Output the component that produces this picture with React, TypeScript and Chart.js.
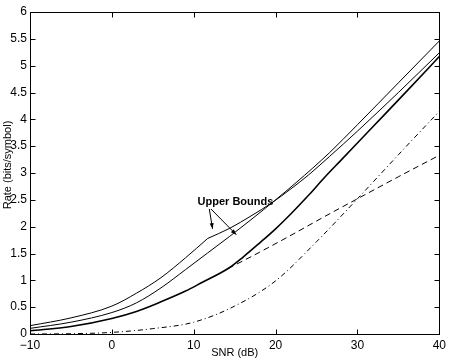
import React, { useEffect, useRef } from "react";
import { Chart, registerables } from "chart.js";

Chart.register(...registerables);

// Upper bound 1 (thin, with a kink) – before and after the kink
const snrA1 = [-10, -5, 0, 3, 6, 9, 11.7];
const rateA1 = [0.155, 0.3, 0.52, 0.76, 1.05, 1.42, 1.78];
const snrA2 = [11.7, 14.4, 17, 19.5, 22, 24, 26.6, 30, 35, 40];
const rateA2 = [1.78, 1.97, 2.2, 2.44, 2.72, 2.96, 3.31, 3.78, 4.5, 5.24];

// Upper bound 2 (thin)
const snrB = [-10, -5, 0, 3, 6, 9, 11.7, 14.4, 17, 20, 22.5, 26.6, 30, 35, 40];
const rateB = [0.105, 0.22, 0.4, 0.58, 0.86, 1.2, 1.51, 1.82, 2.13, 2.5, 2.82, 3.38, 3.9, 4.68, 5.46];

// Thick solid curve
const snrC = [-10, -5, 0, 3, 6, 9, 11, 14.2, 16, 18, 20, 22, 24, 26, 28, 32, 36, 40];
const rateC = [0.06, 0.14, 0.29, 0.42, 0.6, 0.8, 0.96, 1.22, 1.43, 1.69, 1.96, 2.26, 2.58, 2.92, 3.24, 3.88, 4.52, 5.17];

// Dashed curve
const snrD = [14.2, 18, 22, 26, 30, 35, 40];
const rateD = [1.22, 1.52, 1.85, 2.19, 2.52, 2.93, 3.33];

// Dash-dot curve
const snrE = [-10, -5, 0, 5, 10, 15, 20, 25, 30, 35, 40];
const rateE = [0, 0.005, 0.03, 0.1, 0.22, 0.52, 0.99, 1.72, 2.52, 3.34, 4.15];

const xTitle = "SNR (dB)";
const yTitle = "Rate (bits/symbol)";
const annotationText = "Upper Bounds";
// annotation anchor and arrow ends, in data units
const annotationAt = { x: 15.1, y: 2.46 };
const arrowStarts = [
  { x: 11.9, y: 2.33 },
  { x: 12.1, y: 2.33 },
];
const arrowEnds = [
  { x: 12.3, y: 1.96 },
  { x: 15.2, y: 1.85 },
];

const FONT = '"Liberation Sans", Arial, Helvetica, sans-serif';

const pts = (xs: number[], ys: number[]) => xs.map((x, i) => ({ x, y: ys[i] }));

const frame = {
  id: "matlabFrame",
  afterDraw(chart: any) {
    const { ctx, chartArea } = chart;
    const { left, right, top, bottom } = chartArea;
    const xs = chart.scales.x;
    const ys = chart.scales.y;
    ctx.save();
    ctx.strokeStyle = "#000";
    ctx.lineWidth = 1;
    ctx.setLineDash([]);
    const L = Math.round(left) + 0.5;
    const R = Math.round(right) + 0.5;
    const T = Math.round(top) + 0.5;
    const B = Math.round(bottom) + 0.5;
    ctx.strokeRect(L, T, R - L, B - T);
    ctx.beginPath();
    xs.ticks.forEach((t: any) => {
      const p = Math.round(xs.getPixelForValue(t.value)) + 0.5;
      ctx.moveTo(p, B);
      ctx.lineTo(p, B - 5);
      ctx.moveTo(p, T);
      ctx.lineTo(p, T + 5);
    });
    ys.ticks.forEach((t: any) => {
      const p = Math.round(ys.getPixelForValue(t.value)) + 0.5;
      ctx.moveTo(L, p);
      ctx.lineTo(L + 5, p);
      ctx.moveTo(R, p);
      ctx.lineTo(R - 5, p);
    });
    ctx.stroke();

    // axis titles
    ctx.fillStyle = "#000";
    ctx.font = `11px ${FONT}`;
    ctx.textAlign = "center";
    ctx.textBaseline = "middle";
    ctx.fillText(xTitle, (left + right) / 2, bottom + 19);
    ctx.save();
    ctx.translate(left - 22, (top + bottom) / 2 - 8);
    ctx.rotate(-Math.PI / 2);
    ctx.fillText(yTitle, 0, 0);
    ctx.restore();

    // annotation
    ctx.font = `bold 11px ${FONT}`;
    ctx.fillText(
      annotationText,
      xs.getPixelForValue(annotationAt.x),
      ys.getPixelForValue(annotationAt.y)
    );
    arrowStarts.forEach((s, i) => {
      const e = arrowEnds[i];
      const x0 = xs.getPixelForValue(s.x);
      const y0 = ys.getPixelForValue(s.y);
      const x1 = xs.getPixelForValue(e.x);
      const y1 = ys.getPixelForValue(e.y);
      ctx.beginPath();
      ctx.moveTo(x0, y0);
      ctx.lineTo(x1, y1);
      ctx.stroke();
      const ang = Math.atan2(y1 - y0, x1 - x0);
      const len = 6;
      const w = 0.35;
      ctx.beginPath();
      ctx.moveTo(x1, y1);
      ctx.lineTo(x1 - len * Math.cos(ang - w), y1 - len * Math.sin(ang - w));
      ctx.lineTo(x1 - len * Math.cos(ang + w), y1 - len * Math.sin(ang + w));
      ctx.closePath();
      ctx.fill();
    });
    ctx.restore();
  },
};

export default function App() {
  const ref = useRef<HTMLCanvasElement | null>(null);
  useEffect(() => {
    if (!ref.current) return;
    const base = {
      borderColor: "#000",
      pointRadius: 0,
      fill: false,
      cubicInterpolationMode: "monotone" as const,
    };
    const chart = new Chart(ref.current, {
      type: "line",
      data: {
        datasets: [
          { ...base, data: pts(snrA1, rateA1), borderWidth: 1 },
          { ...base, data: pts(snrA2, rateA2), borderWidth: 1 },
          { ...base, data: pts(snrB, rateB), borderWidth: 1 },
          { ...base, data: pts(snrC, rateC), borderWidth: 1.6 },
          { ...base, data: pts(snrD, rateD), borderWidth: 1, borderDash: [6, 4] },
          { ...base, data: pts(snrE, rateE), borderWidth: 1, borderDash: [5, 3, 1, 3] },
        ],
      },
      options: {
        animation: false,
        responsive: false,
        layout: { padding: { top: 12, right: 10, left: 0, bottom: 0 } },
        plugins: { legend: { display: false }, tooltip: { enabled: false } },
        scales: {
          x: {
            type: "linear",
            min: -10,
            max: 40,
            afterFit: (s: any) => {
              s.height = 26;
            },
            grid: { display: false, drawTicks: false },
            border: { display: false },
            ticks: {
              stepSize: 10,
              padding: 4,
              color: "#000",
              font: { family: FONT, size: 12 },
              callback: (v: any) => String(Number(v)).replace("-", "\u2212"),
              maxRotation: 0,
            },
          },
          y: {
            type: "linear",
            min: 0,
            max: 6,
            afterFit: (s: any) => {
              s.width = 30;
            },
            grid: { display: false, drawTicks: false },
            border: { display: false },
            ticks: {
              stepSize: 0.5,
              padding: 3,
              color: "#000",
              font: { family: FONT, size: 12 },
              callback: (v: any) => String(Number(v)),
            },
          },
        },
      },
      plugins: [frame],
    });
    return () => chart.destroy();
  }, []);
  return (
    <div style={{ position: "absolute", left: 0, top: 0, width: 450, height: 360, background: "#fff" }}>
      <canvas ref={ref} width={450} height={360} style={{ display: "block" }} />
    </div>
  );
}
